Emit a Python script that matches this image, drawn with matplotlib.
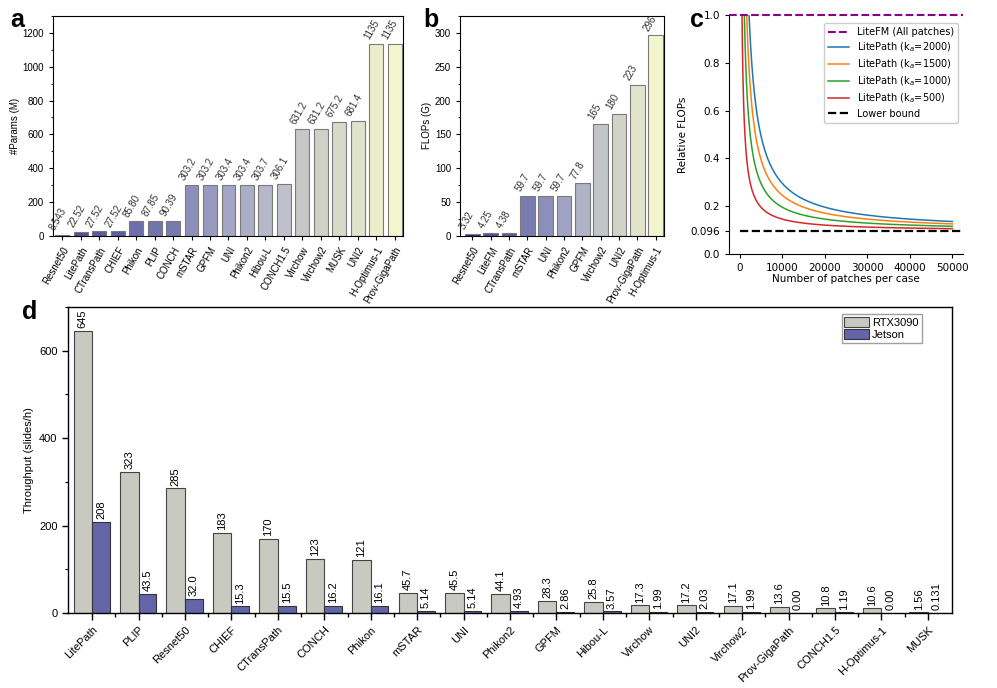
import numpy as np
import matplotlib
matplotlib.use("Agg")
import matplotlib.pyplot as plt
from matplotlib.ticker import MultipleLocator, FixedLocator

plt.rcParams['font.family'] = ['Liberation Sans', 'DejaVu Sans']

# ---- panel a: parameters ----
params_names = ['Resnet50', 'LitePath', 'CTransPath', 'CHIEF', 'Phikon', 'PLIP', 'CONCH',
                'mSTAR', 'GPFM', 'UNI', 'Phikon2', 'Hibou-L', 'CONCH1.5', 'Virchow',
                'Virchow2', 'MUSK', 'UNI2', 'H-Optimus-1', 'Prov-GigaPath']
params_vals = [8.543, 22.52, 27.52, 27.52, 85.80, 87.85, 90.39, 303.2, 303.2, 303.4,
               303.4, 303.7, 306.1, 631.2, 631.2, 675.2, 681.4, 1135, 1135]
params_text = ['8.543', '22.52', '27.52', '27.52', '85.80', '87.85', '90.39', '303.2',
               '303.2', '303.4', '303.4', '303.7', '306.1', '631.2', '631.2', '675.2',
               '681.4', '1135', '1135']

# ---- panel b: FLOPs ----
flops_names = ['Resnet50', 'LiteFM', 'CTransPath', 'mSTAR', 'UNI', 'Phikon2', 'GPFM',
               'Virchow2', 'UNI2', 'Prov-GigaPath', 'H-Optimus-1']
flops_vals = [3.32, 4.25, 4.38, 59.7, 59.7, 59.7, 77.8, 165, 180, 223, 296]
flops_text = ['3.32', '4.25', '4.38', '59.7', '59.7', '59.7', '77.8', '165', '180', '223', '296']

# ---- panel c: relative FLOPs ----
k_values = [2000, 1500, 1000, 500]
lower_bound = 0.096
max_patches = 50000

# ---- panel d: throughput ----
tp_names = ['LitePath', 'PLIP', 'Resnet50', 'CHIEF', 'CTransPath', 'CONCH', 'Phikon',
            'mSTAR', 'UNI', 'Phikon2', 'GPFM', 'Hibou-L', 'Virchow', 'UNI2', 'Virchow2',
            'Prov-GigaPath', 'CONCH1.5', 'H-Optimus-1', 'MUSK']
rtx = [645, 323, 285, 183, 170, 123, 121, 45.7, 45.5, 44.1, 28.3, 25.8, 17.3, 17.2,
       17.1, 13.6, 10.8, 10.6, 1.56]
rtx_text = ['645', '323', '285', '183', '170', '123', '121', '45.7', '45.5', '44.1',
            '28.3', '25.8', '17.3', '17.2', '17.1', '13.6', '10.8', '10.6', '1.56']
jetson = [208, 43.5, 32.0, 15.3, 15.5, 16.2, 16.1, 5.14, 5.14, 4.93, 2.86, 3.57, 1.99,
          2.03, 1.99, 0.00, 1.19, 0.00, 0.131]
jetson_text = ['208', '43.5', '32.0', '15.3', '15.5', '16.2', '16.1', '5.14', '5.14',
               '4.93', '2.86', '3.57', '1.99', '2.03', '1.99', '0.00', '1.19', '0.00', '0.131']

# colours (gradient navy -> pale yellow)
colors_a = ['#2e2f6b', '#4f50a0', '#5a5ca2', '#5c5ea3', '#6d6fac', '#7274ae', '#7779b0',
            '#8c8fb8', '#989bbf', '#a3a6c4', '#acaec7', '#b6b8ca', '#bfc0cb', '#c6c7c6',
            '#cfd0c6', '#d8dac8', '#e0e3cb', '#ebeecb', '#f4f7cc']
colors_b = ['#2e2f6b', '#4f50a0', '#5a5ca2', '#7a7cb0', '#8c8fb9', '#a0a3c3', '#b0b2c6',
            '#c2c5c6', '#d1d3c8', '#e1e4cb', '#f3f5cc']

fig = plt.figure(figsize=(9.97, 6.88), dpi=100)

def style_bar_axes(ax):
    for s in ax.spines.values():
        s.set_linewidth(0.8)
    ax.tick_params(axis='y', which='major', direction='out', length=3, width=0.8, labelsize=7)
    ax.tick_params(axis='y', which='minor', direction='out', length=1.8, width=0.6)
    ax.tick_params(axis='x', which='major', direction='out', length=3, width=0.8, labelsize=7)

# panel a
ax_a = fig.add_axes([0.0532, 0.657, 0.351, 0.320])
xa = np.arange(len(params_names))
ax_a.bar(xa, params_vals, width=0.75, color=colors_a, edgecolor='#7a7a7a', linewidth=0.8)
for i, (v, t) in enumerate(zip(params_vals, params_text)):
    ax_a.annotate(t, (i, v), xytext=(-4, 2), textcoords='offset points', rotation=60,
                  rotation_mode='anchor', ha='left', va='bottom', fontsize=7, color='#333333')
ax_a.set_xlim(-0.5, 18.45)
ax_a.set_ylim(0, 1300)
ax_a.yaxis.set_major_locator(MultipleLocator(200))
ax_a.yaxis.set_minor_locator(MultipleLocator(100))
ax_a.set_xticks(xa)
ax_a.set_xticklabels(params_names, rotation=60, ha='right', rotation_mode='anchor')
ax_a.set_ylabel('#Params (M)', fontsize=7, labelpad=2)
style_bar_axes(ax_a)

# panel b
ax_b = fig.add_axes([0.4614, 0.657, 0.2046, 0.320])
xb = np.arange(len(flops_names))
ax_b.bar(xb, flops_vals, width=0.8, color=colors_b, edgecolor='#7a7a7a', linewidth=0.8)
for i, (v, t) in enumerate(zip(flops_vals, flops_text)):
    ax_b.annotate(t, (i, v), xytext=(-4, 2), textcoords='offset points', rotation=60,
                  rotation_mode='anchor', ha='left', va='bottom', fontsize=7, color='#333333')
ax_b.set_xlim(-0.68, 10.46)
ax_b.set_ylim(0, 325)
ax_b.yaxis.set_major_locator(MultipleLocator(50))
ax_b.yaxis.set_minor_locator(MultipleLocator(25))
ax_b.set_xticks(xb)
ax_b.set_xticklabels(flops_names, rotation=60, ha='right', rotation_mode='anchor')
ax_b.set_ylabel('FLOPs (G)', fontsize=7, labelpad=2)
style_bar_axes(ax_b)

# panel c
ax_c = fig.add_axes([0.7312, 0.6308, 0.2347, 0.3474])
n = np.linspace(100, max_patches, 3000)
ax_c.axhline(1.0, color='#8b008b', ls='--', lw=1.5, clip_on=False, zorder=5,
             label='LiteFM (All patches)')
for k, c in zip(k_values, ['tab:blue', 'tab:orange', 'tab:green', 'tab:red']):
    ax_c.plot(n, lower_bound + k / n, color=c, lw=1.1, label='LitePath (k$_a$=%d)' % k)
ax_c.plot([0, 52500], [lower_bound, lower_bound], color='black', ls='--', lw=1.6,
          label='Lower bound')
ax_c.set_xlim(-2500, 52500)
ax_c.set_ylim(0, 1.0)
ax_c.set_yticks([0.0, 0.096, 0.2, 0.4, 0.6, 0.8, 1.0])
ax_c.set_yticklabels(['0.0', '0.096', '0.2', '0.4', '0.6', '0.8', '1.0'], family='DejaVu Sans')
ax_c.set_xticks([0, 10000, 20000, 30000, 40000, 50000])
ax_c.set_xticklabels(['0', '10000', '20000', '30000', '40000', '50000'], family='DejaVu Sans')
ax_c.tick_params(labelsize=7.5, length=3, width=0.8)
ax_c.spines['top'].set_visible(False)
ax_c.spines['right'].set_visible(False)
ax_c.set_xlabel('Number of patches per case', fontsize=7.5, family='DejaVu Sans', labelpad=1)
ax_c.set_ylabel('Relative FLOPs', fontsize=7.5, family='DejaVu Sans', labelpad=2)
ax_c.legend(loc='upper right', bbox_to_anchor=(1.0, 0.985), prop={'family': 'DejaVu Sans', 'size': 7},
            handlelength=2.2, labelspacing=0.35, borderpad=0.4, fancybox=True, framealpha=1,
            edgecolor='#cccccc')

# panel d
ax_d = fig.add_axes([0.0682, 0.109, 0.8867, 0.4448])
xd = np.arange(len(tp_names))
w1, w2 = 0.4, 0.38
ax_d.bar(xd, rtx, width=-w1, align='edge', color='#c8cac1', edgecolor='#444444',
         linewidth=0.8, label='RTX3090')
ax_d.bar(xd, jetson, width=w2, align='edge', color='#6465a8', edgecolor='#333333',
         linewidth=0.8, label='Jetson')
for i in range(len(tp_names)):
    ax_d.annotate(rtx_text[i], (i - w1 / 2, rtx[i]), xytext=(0, 2), textcoords='offset points',
                  rotation=90, ha='center', va='bottom', fontsize=8)
    ax_d.annotate(jetson_text[i], (i + w2 / 2, jetson[i]), xytext=(0, 2), textcoords='offset points',
                  rotation=90, ha='center', va='bottom', fontsize=8)
ax_d.set_xlim(-0.52, 18.52)
ax_d.set_ylim(0, 700)
ax_d.yaxis.set_major_locator(MultipleLocator(200))
ax_d.yaxis.set_minor_locator(MultipleLocator(100))
ax_d.set_xticks(xd)
ax_d.xaxis.set_minor_locator(FixedLocator(xd[:-1] + 0.5))
ax_d.set_xticklabels(tp_names, rotation=45, ha='right', rotation_mode='anchor')
ax_d.tick_params(axis='x', which='major', direction='out', length=5, width=1, labelsize=8)
ax_d.tick_params(axis='x', which='minor', direction='out', length=3, width=1)
ax_d.tick_params(axis='y', which='major', direction='out', length=4, width=1, labelsize=8)
ax_d.tick_params(axis='y', which='minor', direction='out', length=2.5, width=0.8)
for s in ax_d.spines.values():
    s.set_linewidth(1)
ax_d.set_ylabel('Throughput (slides/h)', fontsize=8)
ax_d.legend(loc='upper right', bbox_to_anchor=(0.968, 0.985), fontsize=8, fancybox=False,
            edgecolor='#888888', handlelength=2.2, handleheight=1.1, borderpad=0.25,
            labelspacing=0.1, handletextpad=0.3, borderaxespad=0.2)

# panel letters
for letter, (x, y) in zip('abcd', [(10, 8), (423, 8), (690, 8), (22, 300)]):
    fig.text(x / 997, 1 - y / 688, letter, fontsize=18, fontweight='bold', va='top', ha='left')

fig.savefig('out.png', dpi=100)
